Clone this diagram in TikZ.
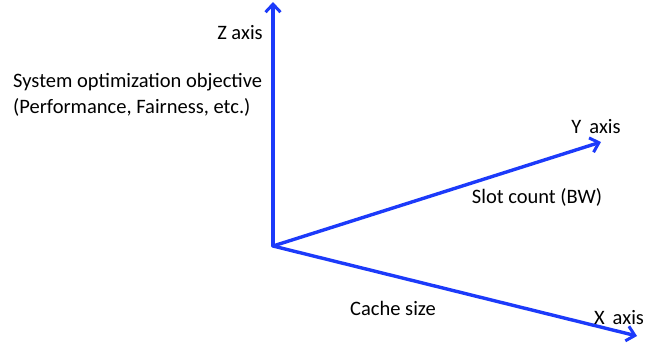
\documentclass[tikz,border=0pt]{standalone}
\usepackage{fontspec}
\setmainfont{Carlito}
\usetikzlibrary{arrows.meta}
\definecolor{axisblue}{RGB}{28,58,250}
\begin{document}
\begin{tikzpicture}[x=1pt,y=-1pt,
  axis/.style={draw=axisblue,line width=3.4pt,
    -{Straight Barb[length=8pt,width=15pt,line width=3pt]}},
  lbl/.style={font=\fontsize{20.5}{25}\selectfont,inner sep=0pt,text=black}]
  \useasboundingbox (0,0) rectangle (660,346);
  \coordinate (o) at (273,246);
  \coordinate (zt) at (273,2);
  \coordinate (yt) at (601,142);
  \coordinate (xt) at (637,336);
  \draw[axis,line cap=round] (o) -- (zt);
  \draw[axis] (o) -- (yt);
  \draw[axis] (o) -- (xt);
  \node[lbl] (zl) at (240,33) {Z axis};
  \node[lbl,anchor=west] (obj1) at (13,82) {System optimization objective};
  \node[lbl,anchor=west] (obj2) at (13,107) {(Performance, Fairness, etc.)};
  \node[lbl] (yl) at (596,127) {Y\, axis};
  \node[lbl] (yd) at (537,197) {Slot count (BW)};
  \node[lbl] (xd) at (393,308) {Cache size};
  \node[lbl] (xl) at (619,318) {X\, axis};
\end{tikzpicture}
\end{document}
